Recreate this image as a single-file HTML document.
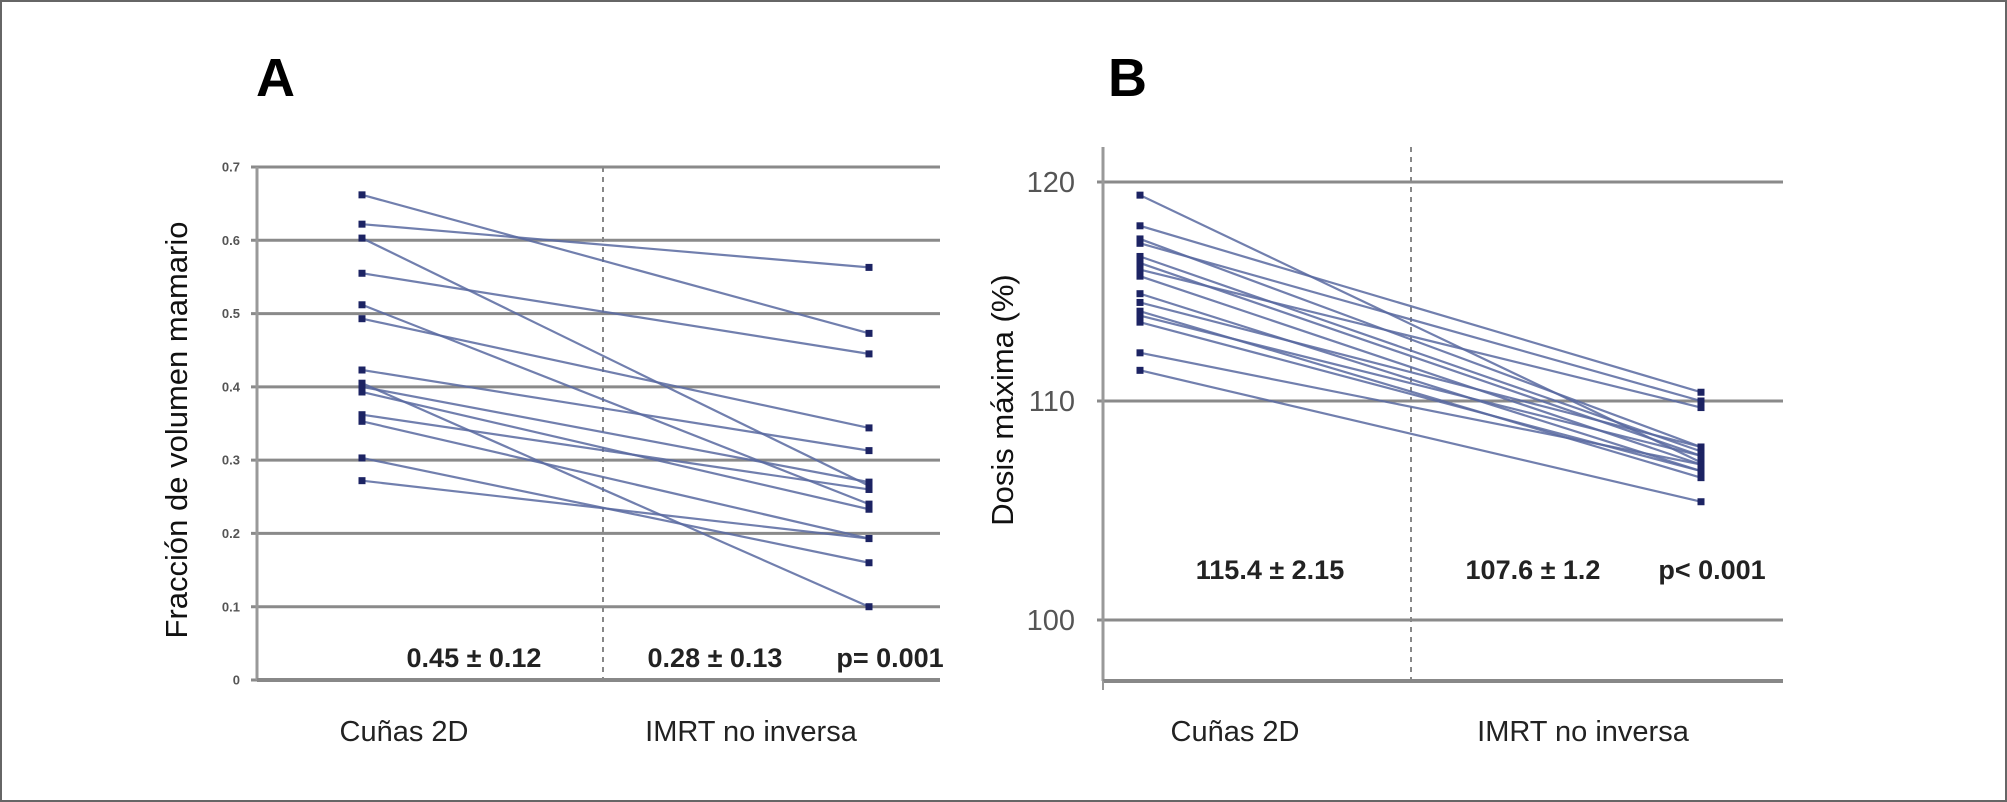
<!DOCTYPE html>
<html><head><meta charset="utf-8"><style>
html,body{margin:0;padding:0;background:#fff;}
svg{display:block;font-family:"Liberation Sans",sans-serif;}
</style></head><body>
<svg width="2007" height="802" viewBox="0 0 2007 802">
<rect x="1" y="1" width="2005" height="800" fill="#fff" stroke="#666" stroke-width="2"/>
<g id="chartA"></g>
<g id="chartB"></g>
</svg>
<script>
// Panel A data
const aTicks = [0, 0.1, 0.2, 0.3, 0.4, 0.5, 0.6, 0.7];
const aTickLabels = ["0", "0.1", "0.2", "0.3", "0.4", "0.5", "0.6", "0.7"];
const aCuñas = [0.662, 0.622, 0.603, 0.555, 0.512, 0.493, 0.423, 0.405, 0.400, 0.393, 0.362, 0.353, 0.303, 0.272];
const aIMRT  = [0.473, 0.563, 0.265, 0.445, 0.240, 0.344, 0.313, 0.100, 0.270, 0.233, 0.260, 0.193, 0.160, 0.193];
const aStats = ["0.45 ± 0.12", "0.28 ± 0.13", "p= 0.001"];
// Panel B data
const bTicks = [100, 110, 120];
const bTickLabels = ["100", "110", "120"];
const bCuñas = [119.4, 118.0, 117.4, 117.2, 116.6, 116.3, 116.0, 115.7, 114.9, 114.5, 114.1, 113.9, 113.6, 112.2, 111.4];
const bIMRT  = [107.2, 110.4, 107.9, 110.0, 107.7, 107.5, 109.7, 107.1, 106.8, 107.9, 106.5, 107.5, 106.8, 107.1, 105.4];
const bStats = ["115.4 ± 2.15", "107.6 ± 1.2", "p< 0.001"];
const categories = ["Cuñas 2D", "IMRT no inversa"];

const NS = "http://www.w3.org/2000/svg";
function mk(parent, tag, attrs, text) {
  const e = document.createElementNS(NS, tag);
  for (const k in attrs) e.setAttribute(k, attrs[k]);
  if (text !== undefined) e.textContent = text;
  parent.appendChild(e);
  return e;
}

function drawPanel(g, cfg) {
  const y = v => cfg.y0 - (v - cfg.vmin) / (cfg.vmax - cfg.vmin) * (cfg.y0 - cfg.y1);
  let t = mk(g, "text", {x: cfg.letterX, y: 96, "font-size": 54, "font-weight": "bold", fill: "#000"}, cfg.letter);
  
  
  cfg.ticks.forEach((v, i) => {
    const l = mk(g, "line", {x1: cfg.axisX - 6, x2: cfg.right, y1: y(v), y2: y(v), stroke: "#8a8a8a", "stroke-width": 3});
    
    
    const tl = mk(g, "text", {x: cfg.tickX, y: y(v) + cfg.tickSize * 0.35, "font-size": cfg.tickSize, fill: "#555", "font-weight": cfg.tickWeight, "text-anchor": "end"}, cfg.tickLabels[i]);
    
    
  });
  let ax = mk(g, "line", {x1: cfg.axisX, x2: cfg.axisX, y1: cfg.axisTop, y2: cfg.bottom, stroke: "#999", "stroke-width": 3});
  
  
  ax = mk(g, "line", {x1: cfg.axisX, x2: cfg.right, y1: cfg.bottom, y2: cfg.bottom, stroke: "#888", "stroke-width": 4});
  
  
  const d = mk(g, "line", {x1: cfg.midX, x2: cfg.midX, y1: cfg.axisTop, y2: cfg.bottom, stroke: "#888", "stroke-width": 2, "stroke-dasharray": "5,5"});
  
  
  cfg.left.forEach((v, i) => {
    const l = mk(g, "line", {x1: cfg.lx, y1: y(v), x2: cfg.rx, y2: y(cfg.rightVals[i]), stroke: "#5868a0", "stroke-width": 2.2, "stroke-opacity": 0.85});
    
    
  });
  cfg.left.forEach((v, i) => {
    const p1 = mk(g, "rect", {x: cfg.lx - 3.5, y: y(v) - 3.5, width: 7, height: 7, fill: "#1c2363"});
    
    
    const p2 = mk(g, "rect", {x: cfg.rx - 3.5, y: y(cfg.rightVals[i]) - 3.5, width: 7, height: 7, fill: "#1c2363"});
    
    
  });
  cfg.stats.forEach((s, i) => {
    const st = mk(g, "text", {x: cfg.statX[i], y: cfg.statY, "font-size": 27, "font-weight": "bold", fill: "#222", "text-anchor": "middle"}, s);
    
    
  });
  categories.forEach((c, i) => {
    const xl = mk(g, "text", {x: cfg.catX[i], y: 741, "font-size": 29, fill: "#222", "text-anchor": "middle"}, c);
    
    
  });
  const yt = mk(g, "text", {x: 0, y: 0, "font-size": cfg.titleSize, fill: "#111", "text-anchor": "middle", transform: `translate(${cfg.titleX},${cfg.titleY}) rotate(-90)`}, cfg.title);
  
  
}

drawPanel(document.getElementById("chartA"), {
  letter: "A", letterX: 256, vmin: 0, vmax: 0.7, y0: 680, y1: 167,
  axisX: 257, axisTop: 167, bottom: 680, right: 940, midX: 603,
  lx: 362, rx: 869, left: aCuñas, rightVals: aIMRT,
  ticks: aTicks, tickLabels: aTickLabels, tickX: 240, tickSize: 13, tickWeight: "bold",
  stats: aStats, statX: [474, 715, 890], statY: 667,
  catX: [404, 751], title: "Fracción de volumen mamario", titleX: 187, titleY: 430, titleSize: 31
});
drawPanel(document.getElementById("chartB"), {
  letter: "B", letterX: 1108, vmin: 100, vmax: 120, y0: 620, y1: 182,
  axisX: 1103, axisTop: 147, bottom: 681, right: 1783, midX: 1411,
  lx: 1140, rx: 1701, left: bCuñas, rightVals: bIMRT,
  ticks: bTicks, tickLabels: bTickLabels, tickX: 1075, tickSize: 29, tickWeight: "normal",
  stats: bStats, statX: [1270, 1533, 1712], statY: 579,
  catX: [1235, 1583], title: "Dosis máxima (%)", titleX: 1013, titleY: 400, titleSize: 31
});
const bt = mk(document.getElementById("chartB"), "line", {x1: 1103, x2: 1103, y1: 681, y2: 690, stroke: "#999", "stroke-width": 2});


</script>
</body></html>
